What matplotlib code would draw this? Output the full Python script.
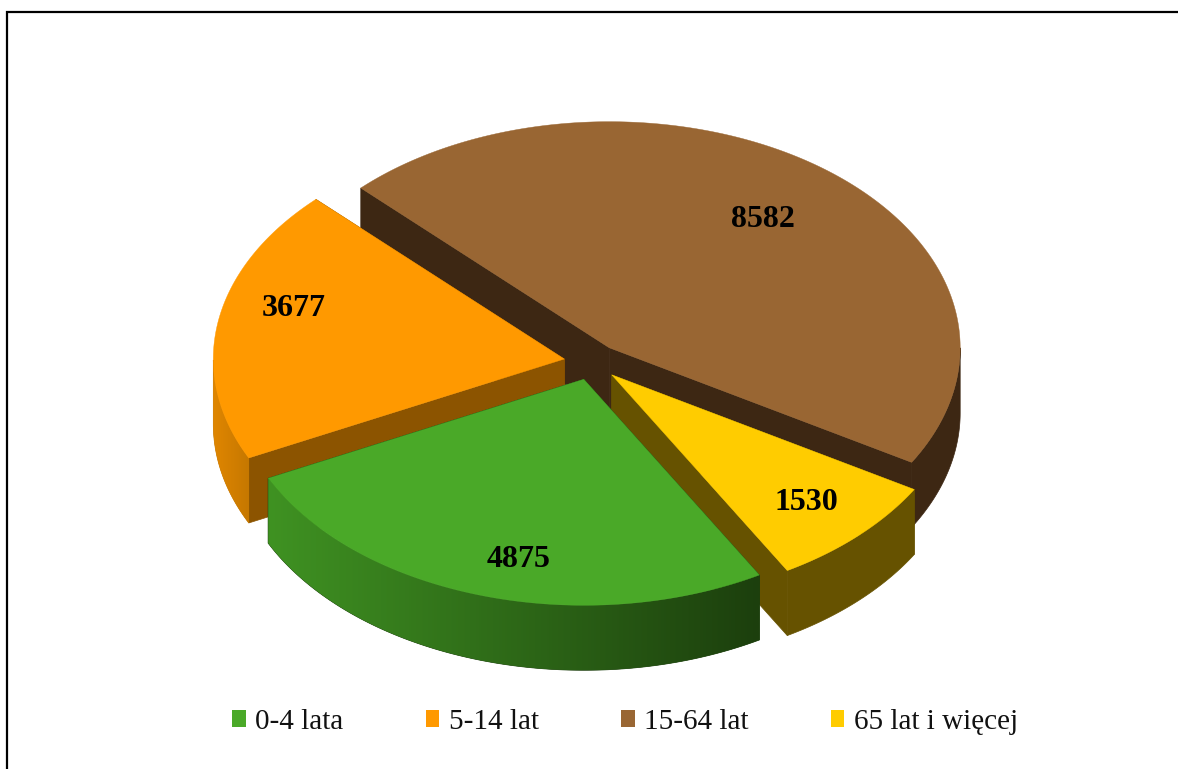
import numpy as np
import matplotlib
matplotlib.use('Agg')
import matplotlib.pyplot as plt
from matplotlib.colors import LinearSegmentedColormap
from matplotlib.patches import Patch, Polygon

plt.rcParams['font.family'] = ['Liberation Serif', 'DejaVu Serif']

grupy = ['0-4 lata', '5-14 lat', '15-64 lat', '65 lat i więcej']
wartosci = [4875, 3677, 8582, 1530]

kolory = ['#4AA928', '#FF9900', '#996633', '#FFCC00']
kolory_ciecia = ['#1C3F0D', '#8C5400', '#3D2713', '#665200']
# kolor boku przy lewej i prawej krawedzi wycinka
bok_lewy = ['#3F9222', '#E08600', '#3D2713', '#665200']
bok_prawy = ['#1C3F0D', '#C67800', '#3D2713', '#665200']

# wspolrzedne w pikselach obrazka
srodek_x, srodek_y = 592, 362
rx, ry = 351, 226
glebokosc = 65
odsuniecie = 0.08
kat_startu = -60
kolejnosc = [2, 1, 3, 0]  # od tylu do przodu
r_etykiety = [0.80, 0.81, 0.73, 0.775]
kat_etykiety = [3.4, -7.8, 1, 0.5]


def punkt(x0, y0, kat, r=1.0):
    k = np.radians(kat)
    return x0 + r * rx * np.cos(k), y0 - r * ry * np.sin(k)


fig = plt.figure(figsize=(11.78, 7.69), dpi=100)
ax = fig.add_axes([0, 0, 1, 1])
ax.axis('off')

# ramka tylko z lewej i u gory
ax.plot([7, 7, 1178], [769, 12, 12], color='black', lw=1.6, solid_joinstyle='miter')

udzialy = np.array(wartosci) / sum(wartosci) * 360
konce = kat_startu - np.cumsum(udzialy)
poczatki = konce + udzialy

z = 2
for i in kolejnosc:
    mid = (poczatki[i] + konce[i]) / 2
    ax0, ay0 = punkt(srodek_x, srodek_y, mid, odsuniecie)
    katy = np.linspace(poczatki[i], konce[i], int(udzialy[i] * 4) + 2)
    xs, ys = punkt(ax0, ay0, katy)

    # sciany ciecia
    for x1, y1 in [(xs[0], ys[0]), (xs[-1], ys[-1])]:
        ax.add_patch(Polygon([(ax0, ay0), (x1, y1), (x1, y1 + glebokosc), (ax0, ay0 + glebokosc)],
                             fc=kolory_ciecia[i], ec=kolory_ciecia[i], lw=0.5, zorder=z))

    # bok, tylko dolna polowa elipsy jest widoczna
    widoczne = np.sin(np.radians(katy)) <= 0
    bx, by = xs[widoczne], ys[widoczne]
    obrys = np.column_stack([np.r_[bx, bx[::-1]], np.r_[by, by[::-1] + glebokosc]])
    bok = Polygon(obrys, fc=bok_prawy[i], ec=bok_prawy[i], lw=0.5, zorder=z + 1)
    ax.add_patch(bok)
    if bok_lewy[i] != bok_prawy[i]:
        cmapa = LinearSegmentedColormap.from_list('bok', [bok_lewy[i], bok_prawy[i]])
        obraz = ax.imshow(np.linspace(0, 1, 256).reshape(1, -1), cmap=cmapa, aspect='auto',
                          extent=(bx.min(), bx.max(), by.max() + glebokosc, by.min()), zorder=z + 2)
        obraz.set_clip_path(bok)

    # wierzch
    ax.add_patch(Polygon(np.column_stack([np.r_[ax0, xs], np.r_[ay0, ys]]),
                         fc=kolory[i], ec=kolory[i], lw=0.3, zorder=z + 3))
    z += 4

    tx, ty = punkt(ax0, ay0, mid + kat_etykiety[i], r_etykiety[i])
    ax.text(tx + 1, ty + 4, str(wartosci[i]), ha='center', va='center',
            fontsize=23, fontweight='bold', color='black', zorder=100)

ax.set_xlim(0, 1178)
ax.set_ylim(769, 0)

uchwyty = [Patch(fc=kolory[i], ec='none', label=grupy[i]) for i in range(len(grupy))]
ax.legend(handles=uchwyty, ncol=4, loc='center', bbox_to_anchor=(625, 722),
          bbox_transform=ax.transData, frameon=False, fontsize=21,
          handlelength=0.46, handleheight=0.5, handletextpad=0.32, columnspacing=2.83,
          labelcolor='#111111')

plt.savefig('out.png', dpi=100)
